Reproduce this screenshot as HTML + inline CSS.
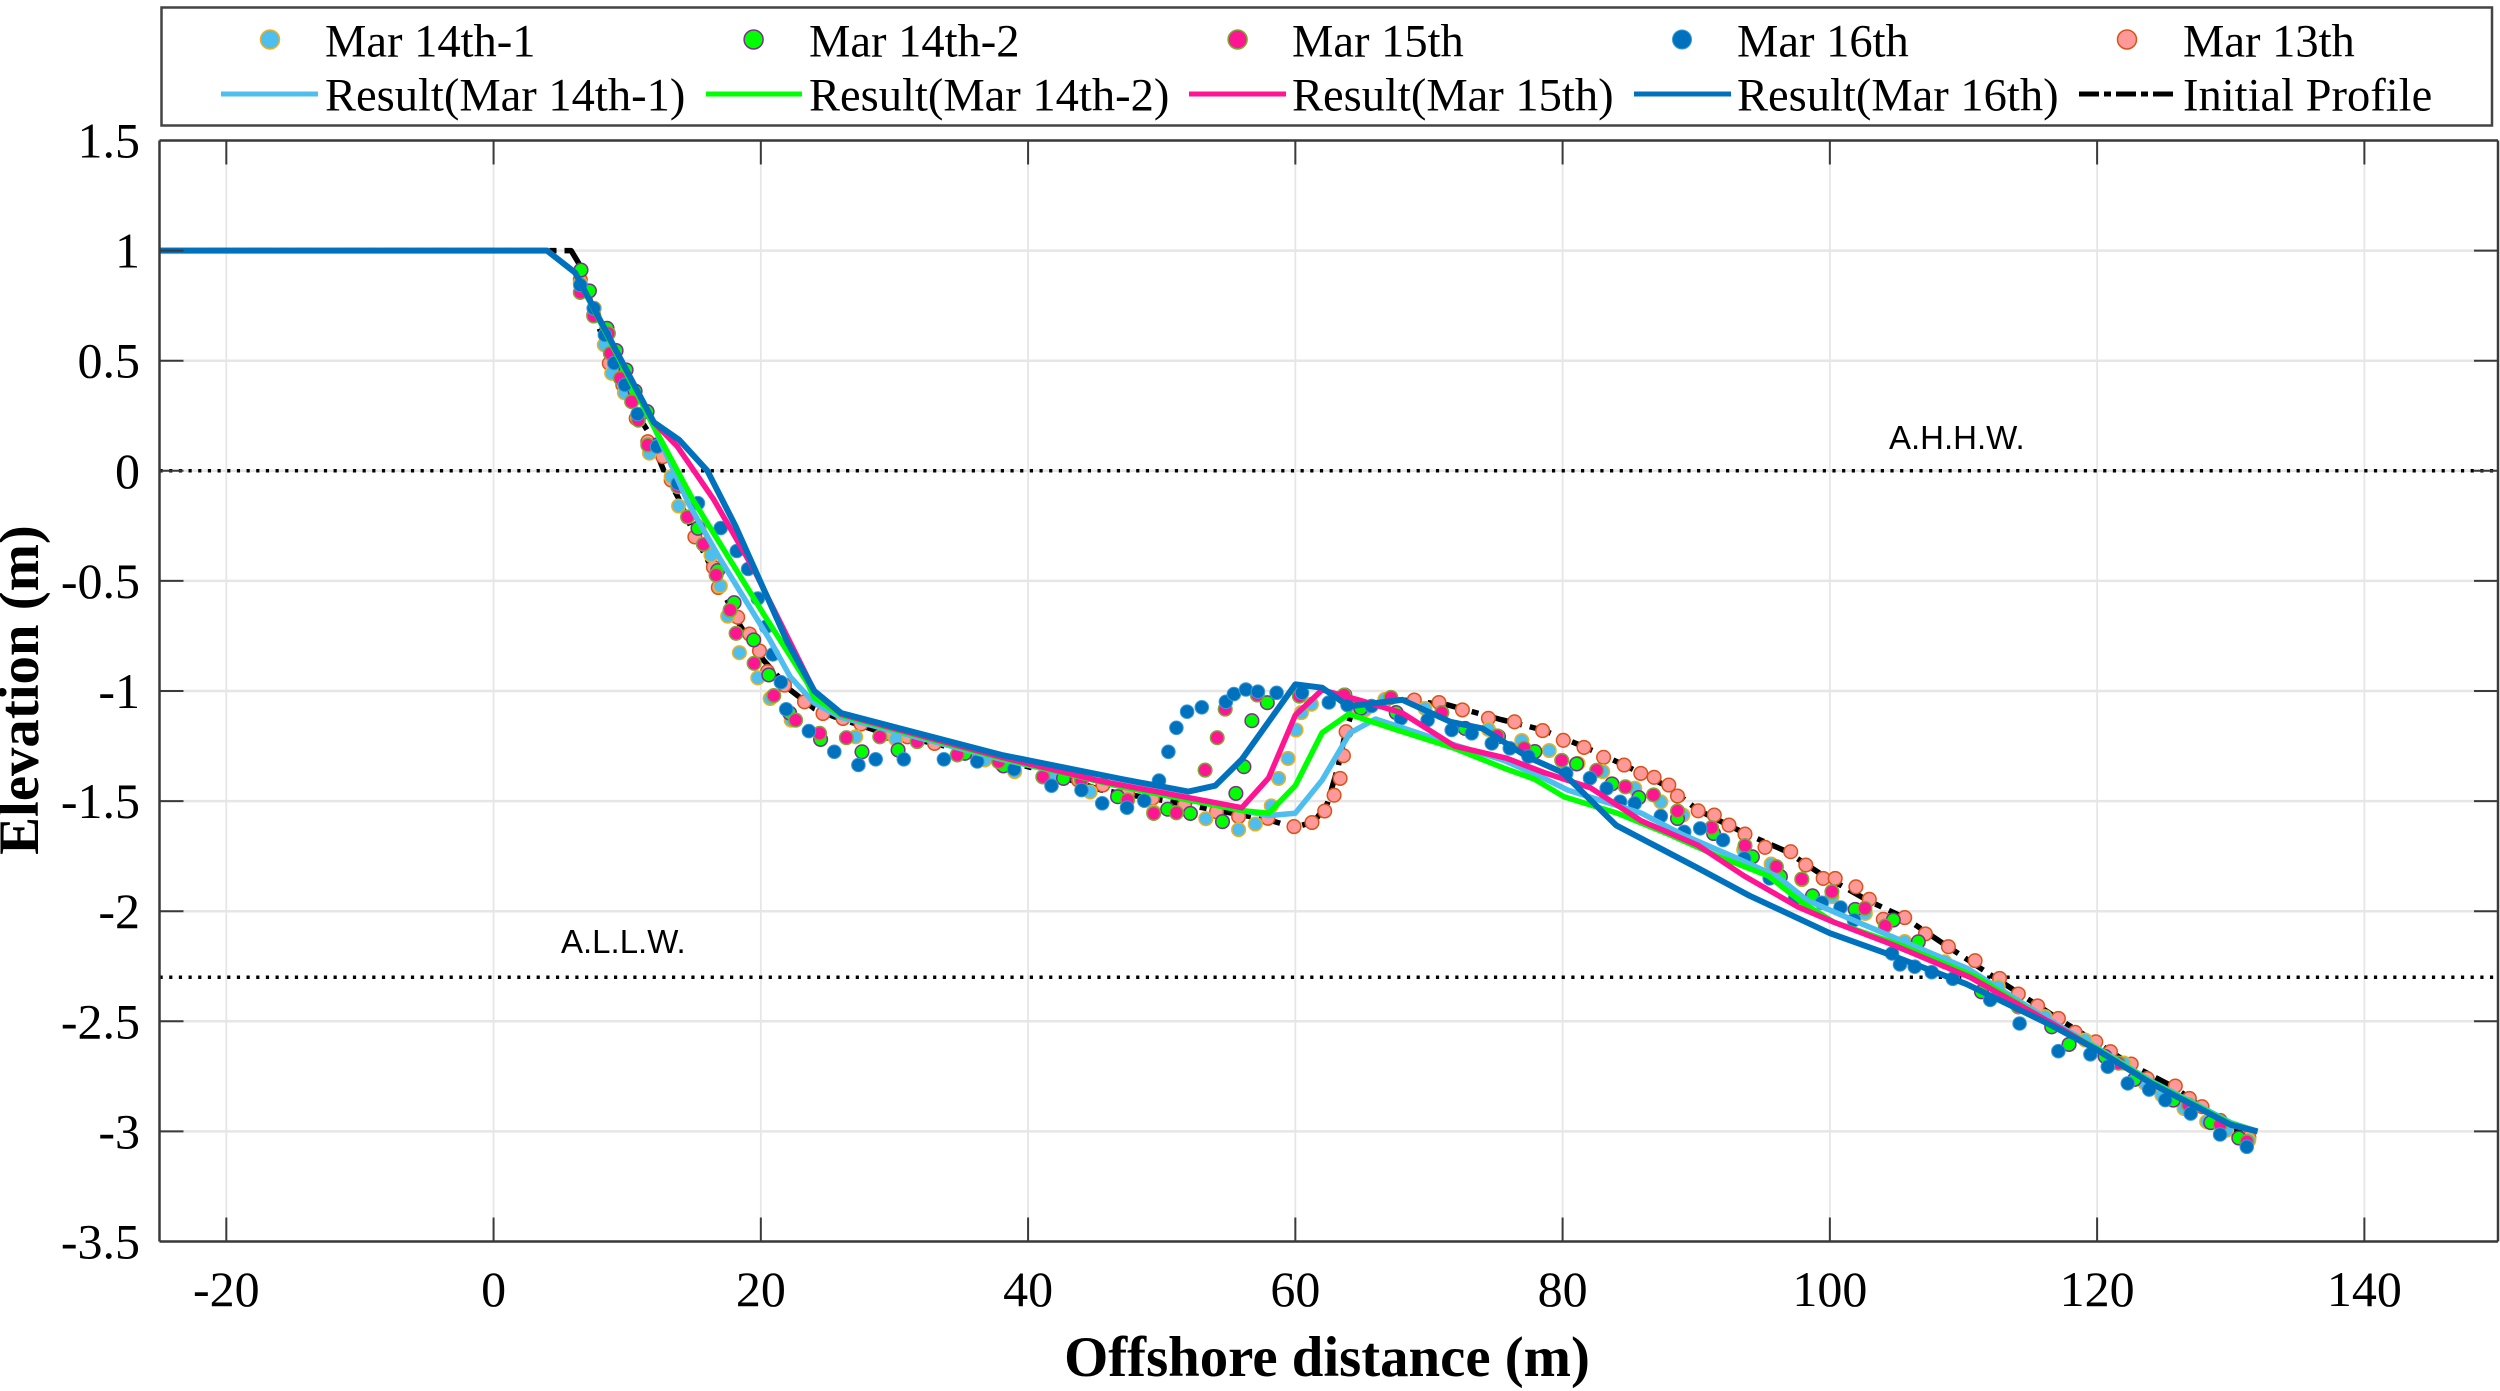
<!DOCTYPE html>
<html>
<head>
<meta charset="utf-8">
<title>Beach profile elevation chart</title>
<style>
html,body{margin:0;padding:0;background:#fff;}
svg{display:block;}
text{font-family:"Liberation Serif","Times New Roman",serif;fill:#000;}
.leg{font-size:46.5px;}
.tick{font-size:50px;}
.title{font-size:56.8px;font-weight:bold;}
.ref{font-family:"Liberation Sans",Arial,sans-serif;font-size:33px;}
</style>
</head>
<body>
<svg id="chart" width="2500" height="1391" viewBox="0 0 2500 1391" xmlns="http://www.w3.org/2000/svg">
  <rect x="0" y="0" width="2500" height="1391" fill="#fff"/>

  <g id="grid"></g>
  <g id="refs"></g>
  <g id="series"></g>
  <g id="axes"></g>

  <text class="ref" x="1889" y="449">A.H.H.W.</text>
  <text class="ref" x="561" y="953">A.L.L.W.</text>

  <text class="title" x="1327" y="1376" text-anchor="middle">Offshore distance (m)</text>
  <text class="title" transform="translate(38,690) rotate(-90)" text-anchor="middle">Elevation (m)</text>

  <g>
    <rect x="161.5" y="7.5" width="2330.5" height="118" fill="#fff" stroke="#444" stroke-width="2.5"/>

    <g>
      <circle cx="270" cy="39.5" r="9.5" fill="#4DBEEE" stroke="#EDB120" stroke-width="1.5"/>
      <text class="leg" x="325" y="56.5">Mar 14th-1</text>
    </g>
    <g>
      <circle cx="753.6" cy="39.5" r="9.5" fill="#00FF00" stroke="#7E2F8E" stroke-width="1.5"/>
      <text class="leg" x="809" y="56.5">Mar 14th-2</text>
    </g>
    <g>
      <circle cx="1237.6" cy="39.5" r="9.5" fill="#FF1493" stroke="#77AC30" stroke-width="1.5"/>
      <text class="leg" x="1292" y="56.5">Mar 15th</text>
    </g>
    <g>
      <circle cx="1682" cy="39.5" r="9.5" fill="#0072BD" stroke="#3d9ad6" stroke-width="1"/>
      <text class="leg" x="1737" y="56.5">Mar 16th</text>
    </g>
    <g>
      <circle cx="2127" cy="39.5" r="9.5" fill="#FF9999" stroke="#D95319" stroke-width="1.5"/>
      <text class="leg" x="2183" y="56.5">Mar 13th</text>
    </g>

    <g>
      <line x1="221" y1="94" x2="318" y2="94" stroke="#4DBEEE" stroke-width="5"/>
      <text class="leg" x="325" y="110.5">Result(Mar 14th-1)</text>
    </g>
    <g>
      <line x1="706" y1="94" x2="802" y2="94" stroke="#00FF00" stroke-width="5"/>
      <text class="leg" x="809" y="110.5">Result(Mar 14th-2)</text>
    </g>
    <g>
      <line x1="1189" y1="94" x2="1286" y2="94" stroke="#FF1493" stroke-width="5"/>
      <text class="leg" x="1292" y="110.5">Result(Mar 15th)</text>
    </g>
    <g>
      <line x1="1634" y1="94" x2="1731" y2="94" stroke="#0072BD" stroke-width="5"/>
      <text class="leg" x="1737" y="110.5">Result(Mar 16th)</text>
    </g>
    <g>
      <line x1="2079" y1="94" x2="2177" y2="94" stroke="#000" stroke-width="5" stroke-dasharray="20 5 7 5"/>
      <text class="leg" x="2183" y="110.5">Initial Profile</text>
    </g>
  </g>
</svg>

<script>
// Tick labels
const xTicks = [-20, 0, 20, 40, 60, 80, 100, 120, 140];
const yTicks = [1.5, 1, 0.5, 0, -0.5, -1, -1.5, -2, -2.5, -3, -3.5];
// Axis ranges
const xDomain = [-25, 150];
const yDomain = [-3.5, 1.5];
// Tide levels
const ahhwLevel = 0;
const allwLevel = -2.3;

// Initial profile
const initialX = [-25, 5.8, 6.4, 7.5, 8.7, 9.7, 10.7, 11.5, 12.75, 13.8, 15.1, 16.5, 17.2, 18.5, 20.2, 22.2, 24, 25.5, 28.5, 34, 40.4, 45.5, 50.4, 56, 58, 59.9, 61.4, 62.4, 63.2, 63.8, 64.4, 66.2, 67.9, 71.4, 75.4, 78.5, 81.6, 84.6, 87.9, 90.1, 93.6, 96.8, 99.3, 102.8, 105.6, 108.8, 112.3, 117, 119.8, 122.6, 125.8, 127.8, 131.3];
const initialY = [1, 1, 0.94, 0.72, 0.51, 0.39, 0.26, 0.185, 0, -0.12, -0.3, -0.46, -0.555, -0.708, -0.86, -0.995, -1.08, -1.117, -1.177, -1.253, -1.35, -1.45, -1.5, -1.563, -1.585, -1.62, -1.594, -1.51, -1.344, -1.177, -1.07, -1.055, -1.04, -1.063, -1.13, -1.177, -1.253, -1.336, -1.435, -1.54, -1.645, -1.73, -1.83, -1.95, -2.03, -2.16, -2.3, -2.485, -2.59, -2.7, -2.8, -2.89, -3.03];

// Measured: Mar 13th
const mar13X = [6.49, 7.49, 8.66, 9.67, 10.67, 11.54, 12.67, 13.29, 15.07, 16.45, 16.82, 18.27, 19.15, 19.9, 20.5, 21.77, 23.27, 24.65, 26.15, 27.5, 29.5, 30.97, 33, 35.5, 38, 43.77, 45.6, 47.45, 49.3, 51.7, 54.1, 55.75, 57.95, 59.9, 61.25, 62.2, 62.9, 63.35, 63.6, 63.8, 64.6, 66.8, 68.9, 70.75, 72.5, 74.45, 76.4, 78.5, 80.05, 81.6, 83.07, 84.6, 85.85, 86.85, 87.95, 88.6, 90.15, 91.35, 92.45, 93.65, 95.15, 97.07, 98.2, 99.5, 100.4, 101.95, 102.95, 104, 105.6, 107.15, 108.87, 110.87, 112.7, 114.1, 115.55, 117.1, 118.35, 119.9, 121, 122.55, 123.75, 125.85, 126.9, 127.85, 129.2, 131.35];
const mar13Y = [0.867, 0.707, 0.488, 0.39, 0.238, 0.132, 0.064, -0.042, -0.3, -0.438, -0.53, -0.665, -0.741, -0.818, -0.912, -0.973, -1.049, -1.102, -1.125, -1.15, -1.192, -1.208, -1.238, -1.276, -1.33, -1.405, -1.427, -1.465, -1.487, -1.518, -1.548, -1.57, -1.578, -1.616, -1.597, -1.545, -1.473, -1.397, -1.294, -1.185, -1.079, -1.038, -1.041, -1.052, -1.086, -1.124, -1.14, -1.18, -1.224, -1.256, -1.301, -1.336, -1.374, -1.392, -1.427, -1.477, -1.544, -1.563, -1.609, -1.65, -1.71, -1.73, -1.79, -1.851, -1.851, -1.889, -1.946, -2.037, -2.029, -2.103, -2.161, -2.225, -2.305, -2.376, -2.43, -2.487, -2.55, -2.593, -2.638, -2.694, -2.76, -2.794, -2.85, -2.888, -2.95, -3.027];

// Measured: Mar 14th-1
const mar141X = [6.49, 7.54, 8.29, 8.84, 9.79, 10.79, 11.67, 13.29, 13.85, 15.4, 16.27, 16.97, 17.52, 18.4, 19.77, 20.7, 22.27, 27.1, 30.1, 36.77, 39, 41.9, 44.65, 49.4, 53.3, 55.75, 57, 58.2, 58.75, 59.45, 60.05, 60.45, 61.2, 65.2, 66.7, 69.7, 74.45, 76.95, 79, 81.15, 83, 85.4, 87.35, 89, 93.55, 95.6, 97.9, 100.15, 102.65, 105.6, 108.6, 112.6, 116.1, 119.1, 122, 123.6, 124.85, 126.5, 128.2, 129.7, 131.35];
const mar141Y = [0.852, 0.738, 0.572, 0.443, 0.354, 0.246, 0.08, -0.027, -0.16, -0.254, -0.383, -0.523, -0.66, -0.826, -0.94, -1.034, -1.132, -1.208, -1.218, -1.313, -1.366, -1.38, -1.458, -1.55, -1.58, -1.63, -1.604, -1.522, -1.397, -1.306, -1.177, -1.098, -1.06, -1.086, -1.038, -1.079, -1.174, -1.225, -1.27, -1.329, -1.366, -1.442, -1.503, -1.563, -1.722, -1.786, -1.857, -1.934, -2.01, -2.138, -2.23, -2.343, -2.479, -2.585, -2.69, -2.782, -2.835, -2.896, -2.956, -2.994, -3.04];

// Measured: Mar 14th-2
const mar142X = [6.54, 7.17, 8.49, 9.17, 9.92, 10.59, 11.49, 12.2, 15.3, 16.77, 18, 19.47, 20.6, 22.15, 24.47, 27.57, 30.27, 35.27, 38.15, 42.65, 46.7, 50.45, 52.15, 54.55, 55.55, 56.15, 56.75, 57.9, 60.3, 63.7, 64.9, 67.55, 70.95, 72.7, 75.2, 77.93, 81.05, 83.7, 85.7, 88.6, 91.3, 94.2, 96.3, 98.7, 101.9, 104.75, 106.62, 111.35, 114.1, 116.6, 117.9, 120.6, 122.8, 125.7, 128.5, 130.6];
const mar142Y = [0.912, 0.817, 0.647, 0.546, 0.458, 0.362, 0.269, 0.117, -0.261, -0.453, -0.599, -0.768, -0.927, -1.1, -1.22, -1.276, -1.268, -1.283, -1.34, -1.397, -1.48, -1.537, -1.556, -1.593, -1.465, -1.344, -1.135, -1.053, -1.018, -1.018, -1.078, -1.098, -1.098, -1.17, -1.207, -1.275, -1.331, -1.422, -1.484, -1.579, -1.647, -1.753, -1.843, -1.93, -1.992, -2.04, -2.139, -2.366, -2.434, -2.525, -2.605, -2.66, -2.764, -2.858, -2.96, -3.03];

// Measured: Mar 15th
const mar15X = [6.49, 7.49, 8.59, 8.74, 9.49, 10.34, 10.84, 11.54, 13.79, 14.52, 15.7, 16.65, 17.7, 18.15, 19.5, 20.97, 22.6, 24.4, 26.4, 28.9, 31.7, 34.7, 37.8, 41.1, 44, 47.45, 49.4, 51.1, 53.25, 54.15, 54.75, 57.15, 60.3, 63.65, 67.15, 70.95, 75.1, 77.13, 79.93, 82.55, 84.7, 86.8, 88.6, 91.15, 93.65, 96, 97.9, 100.15, 102.62, 104.15, 114.1, 121.6, 126.85, 129.2, 131.2];
const mar15Y = [0.81, 0.703, 0.624, 0.533, 0.42, 0.314, 0.23, 0.117, -0.072, -0.21, -0.334, -0.473, -0.632, -0.738, -0.874, -1.021, -1.132, -1.192, -1.212, -1.208, -1.23, -1.29, -1.321, -1.39, -1.405, -1.495, -1.556, -1.553, -1.359, -1.212, -1.082, -1.018, -1.023, -1.018, -1.029, -1.098, -1.204, -1.26, -1.315, -1.36, -1.435, -1.472, -1.545, -1.621, -1.702, -1.798, -1.854, -1.911, -1.987, -2.067, -2.434, -2.69, -2.88, -2.97, -3.047];

// Measured: Mar 16th
const mar16X = [6.49, 7.49, 8.33, 9.03, 9.83, 10.78, 12.24, 13.79, 15.29, 17, 18.2, 19.05, 19.77, 20.4, 20.9, 21.5, 21.9, 23.6, 25.5, 27.3, 28.6, 30.7, 33.7, 36.2, 38.95, 41.75, 44, 45.55, 47.4, 48.7, 49.8, 50.5, 51.1, 51.9, 53, 54.8, 55.4, 56.3, 57.2, 58.6, 60.5, 62.5, 63.9, 65.7, 67.9, 69.9, 71.7, 73.2, 74.7, 76.05, 77.45, 80.27, 82.05, 83.3, 84.3, 85.4, 87.35, 89.1, 90.3, 92, 93.6, 95.5, 97.4, 99.4, 100.8, 101.8, 104.65, 105.25, 106.35, 107.62, 109.2, 112, 114.2, 117.1, 119.5, 120.8, 122.3, 123.9, 125.1, 127, 129.2, 131.2];
const mar16Y = [0.844, 0.738, 0.617, 0.489, 0.39, 0.258, 0.11, -0.057, -0.147, -0.26, -0.364, -0.446, -0.58, -0.708, -0.834, -0.96, -1.083, -1.182, -1.276, -1.336, -1.31, -1.31, -1.31, -1.32, -1.355, -1.43, -1.45, -1.51, -1.53, -1.498, -1.407, -1.276, -1.167, -1.094, -1.074, -1.049, -1.014, -0.993, -1.003, -1.008, -1.008, -1.052, -1.064, -1.068, -1.124, -1.132, -1.177, -1.192, -1.238, -1.26, -1.298, -1.374, -1.396, -1.442, -1.503, -1.51, -1.568, -1.64, -1.624, -1.677, -1.76, -1.851, -1.942, -1.962, -1.983, -2.04, -2.192, -2.242, -2.252, -2.277, -2.307, -2.403, -2.51, -2.636, -2.65, -2.706, -2.782, -2.81, -2.858, -2.919, -3.014, -3.07];

// Model result: Mar 14th-1
const result141X = [-25, 4, 6.1, 12, 14.6, 17, 20.7, 22.2, 24, 26, 38, 45.5, 56, 58, 60, 62, 64.1, 66, 71.9, 75.6, 78.4, 80.4, 85.9, 88.9, 92.8, 96.1, 98.3, 102.1, 105.6, 110.3, 116.3, 120, 124, 127.5, 130, 132];
const result141Y = [1, 1, 0.9, 0.2, -0.15, -0.405, -0.77, -0.935, -1.055, -1.12, -1.31, -1.41, -1.543, -1.566, -1.555, -1.405, -1.19, -1.127, -1.245, -1.315, -1.39, -1.45, -1.555, -1.65, -1.753, -1.843, -1.95, -2.05, -2.14, -2.26, -2.49, -2.62, -2.77, -2.88, -2.96, -3];

// Model result: Mar 14th-2
const result142X = [-25, 4, 6.1, 12, 14.9, 20.2, 23.5, 24, 26, 38, 47, 56, 58, 60, 62, 64, 68, 71.9, 75.6, 77.9, 80.1, 84.1, 87.9, 91.6, 95.4, 97.9, 100.3, 105.1, 111, 116.3, 120, 124, 127.5, 130, 132];
const result142Y = [1, 1, 0.9, 0.2, -0.13, -0.65, -0.965, -1.03, -1.11, -1.305, -1.435, -1.543, -1.555, -1.43, -1.19, -1.105, -1.185, -1.26, -1.35, -1.4, -1.48, -1.555, -1.65, -1.75, -1.84, -1.96, -2.05, -2.15, -2.3, -2.5, -2.625, -2.775, -2.885, -2.965, -3];

// Model result: Mar 15th
const result15X = [-25, 4, 6.1, 12, 13.76, 16.5, 19.5, 24, 26, 38, 45.5, 56, 58, 60, 62, 64.7, 68, 71.9, 75.8, 78.6, 82.1, 85.9, 90.1, 93.6, 97.6, 100.3, 104.6, 110.5, 116.5, 120, 124, 127.5, 130, 132];
const result15Y = [1, 1, 0.9, 0.22, 0.11, -0.133, -0.45, -1, -1.105, -1.3, -1.41, -1.53, -1.395, -1.11, -0.995, -1.04, -1.1, -1.25, -1.305, -1.37, -1.44, -1.59, -1.7, -1.84, -1.98, -2.05, -2.15, -2.3, -2.505, -2.63, -2.78, -2.89, -2.97, -3];

// Model result: Mar 16th
const result16X = [-25, 4, 6.1, 12, 13.9, 16, 18.1, 22, 24, 26, 38, 47, 52, 54, 56, 60, 62, 64, 68, 71.6, 74, 77.4, 80, 84, 90, 94, 100, 104.6, 110.2, 116.3, 120, 124, 127.5, 130, 132];
const result16Y = [1, 1, 0.9, 0.22, 0.14, 0, -0.25, -0.78, -1, -1.1, -1.29, -1.4, -1.457, -1.43, -1.31, -0.97, -0.985, -1.07, -1.04, -1.14, -1.17, -1.3, -1.37, -1.61, -1.8, -1.93, -2.1, -2.2, -2.33, -2.51, -2.63, -2.78, -2.89, -2.97, -3];

const NS = 'http://www.w3.org/2000/svg';
const plot = { left: 159.5, right: 2498, top: 140.5, bottom: 1241.5 };

function xScale(v) {
  return plot.left + (v - xDomain[0]) / (xDomain[1] - xDomain[0]) * (plot.right - plot.left);
}
function yScale(v) {
  return plot.top + (yDomain[1] - v) / (yDomain[1] - yDomain[0]) * (plot.bottom - plot.top);
}
function makeLine(x1, y1, x2, y2, stroke, width) {
  const el = document.createElementNS(NS, 'line');
  el.setAttribute('x1', x1);
  el.setAttribute('y1', y1);
  el.setAttribute('x2', x2);
  el.setAttribute('y2', y2);
  el.setAttribute('stroke', stroke);
  el.setAttribute('stroke-width', width);
  return el;
}

const gridGroup = document.getElementById('grid');
const refsGroup = document.getElementById('refs');
const seriesGroup = document.getElementById('series');
const axesGroup = document.getElementById('axes');

// Grid
xTicks.forEach(function (t) {
  const el = makeLine(xScale(t), plot.top, xScale(t), plot.bottom, '#e6e6e6', 1.8);
  
  
  gridGroup.appendChild(el);
});
yTicks.forEach(function (t) {
  const el = makeLine(plot.left, yScale(t), plot.right, yScale(t), '#e6e6e6', 2.5);
  
  
  gridGroup.appendChild(el);
});

// Tide reference lines
[ahhwLevel, allwLevel].forEach(function (level) {
  const el = makeLine(plot.left, yScale(level), plot.right, yScale(level), '#000', 3.5);
  el.setAttribute('stroke-dasharray', '3.2 6.47');
  
  
  refsGroup.appendChild(el);
});

function drawPolyline(xs, ys, color, width, dash, name) {
  const el = document.createElementNS(NS, 'polyline');
  const pts = xs.map(function (x, i) {
    return xScale(x).toFixed(1) + ',' + yScale(ys[i]).toFixed(1);
  });
  el.setAttribute('points', pts.join(' '));
  el.setAttribute('fill', 'none');
  el.setAttribute('stroke', color);
  el.setAttribute('stroke-width', width);
  el.setAttribute('stroke-linejoin', 'round');
  if (dash) {
    el.setAttribute('stroke-dasharray', dash);
  }
  
  
  seriesGroup.appendChild(el);
}

function drawPoints(xs, ys, fill, edge, edgeWidth, name) {
  xs.forEach(function (x, i) {
    const el = document.createElementNS(NS, 'circle');
    el.setAttribute('cx', xScale(x).toFixed(1));
    el.setAttribute('cy', yScale(ys[i]).toFixed(1));
    el.setAttribute('r', 6.8);
    el.setAttribute('fill', fill);
    el.setAttribute('stroke', edge);
    el.setAttribute('stroke-width', edgeWidth);
    
    
    seriesGroup.appendChild(el);
  });
}

// Series, back to front
drawPolyline(initialX, initialY, '#000', 5.5, '22 8 7 8', 'initial-profile-line');
drawPoints(mar13X, mar13Y, '#FF9999', '#D95319', 1.5, 'point-mar-13th');
drawPoints(mar141X, mar141Y, '#4DBEEE', '#EDB120', 1.5, 'point-mar-14th-1');
drawPoints(mar142X, mar142Y, '#00FF00', '#7E2F8E', 1.5, 'point-mar-14th-2');
drawPoints(mar15X, mar15Y, '#FF1493', '#77AC30', 1.5, 'point-mar-15th');
drawPoints(mar16X, mar16Y, '#0072BD', '#3d9ad6', 1, 'point-mar-16th');
drawPolyline(result141X, result141Y, '#4DBEEE', 5.5, null, 'result-line-mar-14th-1');
drawPolyline(result142X, result142Y, '#00FF00', 5.5, null, 'result-line-mar-14th-2');
drawPolyline(result15X, result15Y, '#FF1493', 5.5, null, 'result-line-mar-15th');
drawPolyline(result16X, result16Y, '#0072BD', 6, null, 'result-line-mar-16th');

// Axis frame
const frameSides = [
  [plot.left, plot.top, plot.right, plot.top, 'axis-top'],
  [plot.left, plot.bottom, plot.right, plot.bottom, 'x-axis-line'],
  [plot.left, plot.top, plot.left, plot.bottom, 'y-axis-line'],
  [plot.right, plot.top, plot.right, plot.bottom, 'axis-right']
];
frameSides.forEach(function (s) {
  const el = makeLine(s[0], s[1], s[2], s[3], '#3a3a3a', 2.5);
  
  
  axesGroup.appendChild(el);
});

// X ticks and labels
xTicks.forEach(function (t) {
  const px = xScale(t);
  const tickBottom = makeLine(px, plot.bottom, px, plot.bottom - 24, '#3a3a3a', 2);
  
  
  axesGroup.appendChild(tickBottom);
  const tickTop = makeLine(px, plot.top, px, plot.top + 24, '#3a3a3a', 2);
  
  
  axesGroup.appendChild(tickTop);
  const label = document.createElementNS(NS, 'text');
  label.setAttribute('class', 'tick');
  label.setAttribute('x', px);
  label.setAttribute('y', 1306);
  label.setAttribute('text-anchor', 'middle');
  label.textContent = String(t);
  
  
  axesGroup.appendChild(label);
});

// Y ticks and labels
yTicks.forEach(function (t) {
  const py = yScale(t);
  const tickLeft = makeLine(plot.left, py, plot.left + 24, py, '#3a3a3a', 2);
  
  
  axesGroup.appendChild(tickLeft);
  const tickRight = makeLine(plot.right, py, plot.right - 24, py, '#3a3a3a', 2);
  
  
  axesGroup.appendChild(tickRight);
  const label = document.createElementNS(NS, 'text');
  label.setAttribute('class', 'tick');
  label.setAttribute('x', 140);
  label.setAttribute('y', py + 17);
  label.setAttribute('text-anchor', 'end');
  label.textContent = String(t);
  
  
  axesGroup.appendChild(label);
});
</script>
</body>
</html>
